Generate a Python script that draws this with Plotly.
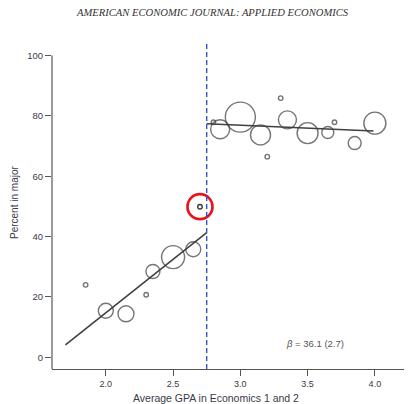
import plotly.graph_objects as go

# ---- data ----
left_gpa = [1.85, 2.00, 2.15, 2.30, 2.35, 2.50, 2.65]
left_pct = [24.0, 15.4, 14.4, 20.7, 28.4, 33.2, 35.8]
left_weight = [1, 15, 16, 1, 14, 23, 15]

right_gpa = [2.80, 2.85, 3.00, 3.15, 3.20, 3.30, 3.35, 3.50, 3.65, 3.70, 3.85, 4.00]
right_pct = [77.9, 75.6, 79.6, 73.7, 66.5, 85.9, 78.7, 74.3, 74.5, 77.9, 71.0, 77.6]
right_weight = [4, 19, 30, 20, 2, 2, 18, 21, 12, 1, 13, 22]

outlier_gpa = [2.70]
outlier_pct = [49.9]

fit_left_x = [1.70, 2.75]
fit_left_y = [4.1, 41.3]
fit_right_x = [2.75, 3.99]
fit_right_y = [77.4, 75.0]

cutoff = 2.75
x_ticks = [2.0, 2.5, 3.0, 3.5, 4.0]
y_ticks = [0, 20, 40, 60, 80, 100]
x_range = [1.6, 4.276]
y_range = [-3.9, 104.5]

title_text = "AMERICAN ECONOMIC JOURNAL: APPLIED ECONOMICS"
x_title = "Average GPA in Economics 1 and 2"
y_title = "Percent in major"
beta_text = "<i>β</i> = 36.1 (2.7)"


def diam(w):
    return max(4.5, w)


circle_col = "#3a3a3a"

fig = go.Figure()
fig.add_trace(go.Scatter(x=left_gpa, y=left_pct, mode="markers",
                         marker=dict(size=[diam(w) for w in left_weight], symbol="circle-open",
                                     color=circle_col, line=dict(width=1.4, color=circle_col)),
                         showlegend=False))
fig.add_trace(go.Scatter(x=right_gpa, y=right_pct, mode="markers",
                         marker=dict(size=[diam(w) for w in right_weight], symbol="circle-open",
                                     color=circle_col, line=dict(width=1.4, color=circle_col)),
                         showlegend=False))
fig.add_trace(go.Scatter(x=outlier_gpa, y=outlier_pct, mode="markers",
                         marker=dict(size=4.5, symbol="circle-open", color=circle_col,
                                     line=dict(width=1.4, color=circle_col)),
                         showlegend=False))
fig.add_trace(go.Scatter(x=outlier_gpa, y=outlier_pct, mode="markers",
                         marker=dict(size=25, symbol="circle-open", color="#e8141c",
                                     line=dict(width=2.7, color="#e8141c")),
                         showlegend=False))
fig.add_trace(go.Scatter(x=fit_left_x, y=fit_left_y, mode="lines",
                         line=dict(color="#404040", width=1.6), showlegend=False))
fig.add_trace(go.Scatter(x=fit_right_x, y=fit_right_y, mode="lines",
                         line=dict(color="#404040", width=1.6), showlegend=False))

fig.add_shape(type="line", xref="x", yref="paper", x0=cutoff, x1=cutoff, y0=0, y1=1,
              line=dict(color="#2748c8", width=1.3, dash="5px,3px"))
# y axis line from bottom to the 100 tick (R-style)
fig.add_shape(type="line", xref="paper", yref="y", x0=0, x1=0, y0=y_range[0], y1=y_ticks[-1],
              line=dict(color="#555555", width=1.2))

# page body has an 8px margin, so figure pixel = screen pixel - 8
L, T, W, H = 44, 34, 360, 327


def px(xs):
    return (xs - 8 - L) / W


def py(ys):
    return (T + H - (ys - 8)) / H


fig.add_annotation(text=beta_text, x=3.555, y=4.4, xref="x", yref="y", showarrow=False,
                   font=dict(family="Liberation Sans, Arial", size=9.5, color="#555555"))
fig.add_annotation(text="<i>" + title_text + "</i>", x=px(212), y=py(12.3),
                   xref="paper", yref="paper", showarrow=False, yanchor="middle",
                   font=dict(family="Liberation Serif, Times New Roman", size=10.6, color="#333333"))
fig.add_annotation(text=x_title, x=px(216), y=py(398),
                   xref="paper", yref="paper", showarrow=False, yanchor="middle",
                   font=dict(family="Liberation Sans, Arial", size=10.5, color="#3a3a4a"))
fig.add_annotation(text=y_title, x=px(14), y=py(203), textangle=-90,
                   xref="paper", yref="paper", showarrow=False, yanchor="middle", xanchor="center",
                   font=dict(family="Liberation Sans, Arial", size=10, color="#3a3a4a"))

fig.update_layout(
    width=412, height=404,
    margin=dict(l=L, r=412 - L - W, t=T, b=404 - T - H, autoexpand=False),
    paper_bgcolor="white", plot_bgcolor="white",
    font=dict(family="Liberation Sans, Arial", color="#3a3a4a"),
)
fig.update_xaxes(range=x_range, tickvals=x_ticks, ticktext=[f"{v:.1f}" for v in x_ticks],
                 showgrid=False, zeroline=False, showline=True, linecolor="#555555", linewidth=1.2,
                 ticks="outside", ticklen=6, tickcolor="#555555", tickfont=dict(size=9),
                 automargin=False)
fig.update_yaxes(range=y_range, tickvals=y_ticks, showgrid=False, zeroline=False, showline=False,
                 ticks="outside", ticklen=6, tickcolor="#555555", tickfont=dict(size=9.5),
                 automargin=False)

fig.write_html("out.html")
